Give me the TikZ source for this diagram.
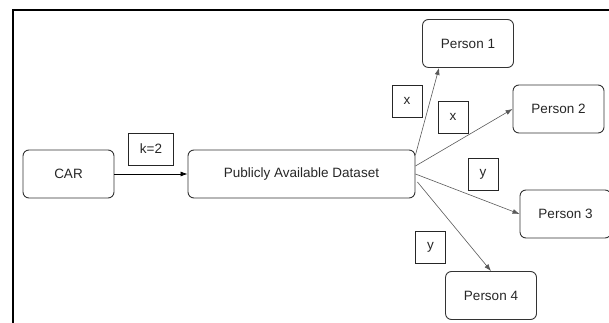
\documentclass[tikz,border=0pt]{standalone}
\usepackage{fontspec}
\setmainfont{Liberation Sans}
\usetikzlibrary{arrows.meta}
\usetikzlibrary{positioning}

\begin{document}
\begin{tikzpicture}[x=1pt,y=1pt,
    font=\fontsize{13.5}{16}\selectfont,
    entity/.style={draw=black!80,line width=0.9pt,rounded corners=6pt,minimum width=91pt,minimum height=48pt,inner sep=0pt,text=black!85},
    tag/.style={draw=black!85,line width=0.8pt,minimum width=30pt,minimum height=32pt,inner sep=0pt,text=black!85},
    link/.style={-{Latex[length=7pt,width=5pt]},line width=0.6pt,draw=black!65}]
        \useasboundingbox (0,0) rectangle (609,323);
        \draw [line width=2.5pt] (13,-10) -- (13,313) -- (620,313);

        % source and dataset
        \node [entity] (car) at (68.5,149) {CAR};
        \node [entity,minimum width=227pt] (pad) at (301.5,149) {Publicly Available Dataset};
        \node [tag,minimum width=45pt] (k) at (151,174) {k=2};
        \draw [-{Latex[length=7pt,width=5pt]},line width=0.7pt] (car) -- (pad);

        % persons
        \node [entity] (p1) at (468,279.5) {Person 1};
        \node [entity] (p2) at (558.5,214) {Person 2};
        \node [entity] (p3) at (565.5,109) {Person 3};
        \node [entity] (p4) at (491,27.5) {Person 4};

        \node [tag] (x1) at (407,222) {x};
        \node [tag] (x2) at (453,206) {x};
        \node [tag] (y1) at (483,149) {y};
        \node [tag] (y2) at (430.5,76) {y};

        \draw [link] ([yshift=19pt]pad.east) -- ([xshift=-29pt]p1.south);
        \draw [link] ([yshift=8pt]pad.east) -- (p2.west);
        \draw [link] (pad.east) -- (p3.west);
        \draw [link] ([xshift=2pt,yshift=-8pt]pad.east) -- (p4.north);
    \end{tikzpicture}
\end{document}
